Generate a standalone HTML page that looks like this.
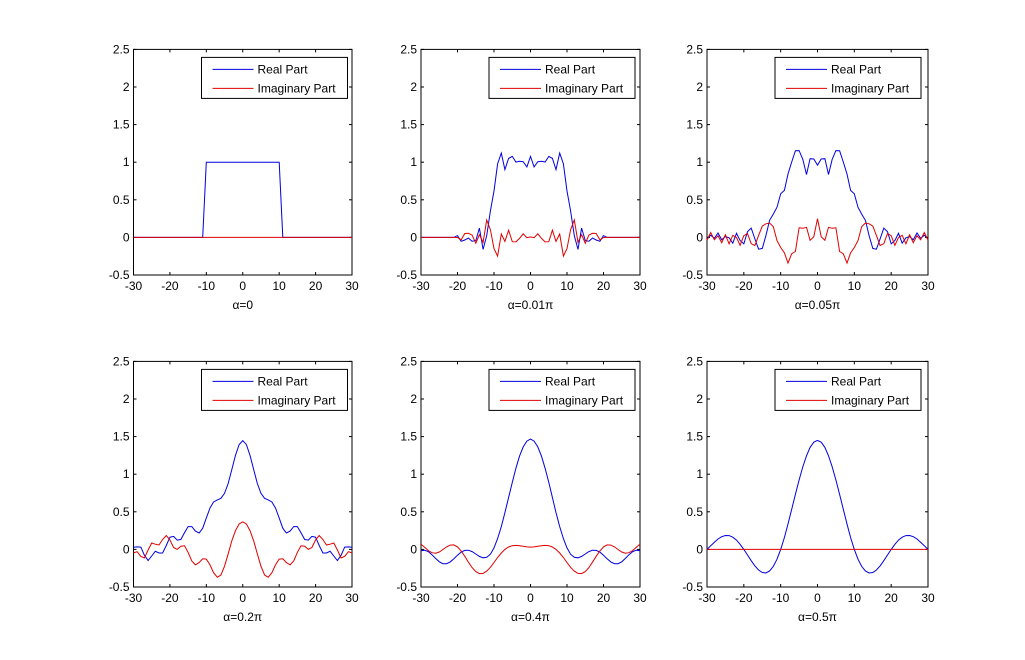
<!DOCTYPE html><html><head><meta charset="utf-8"><style>body{margin:0;background:#fff}svg{display:block}text{font-family:"Liberation Sans",sans-serif;font-size:12px;fill:#000}</style></head><body>
<svg id="s" width="1025" height="660" xmlns="http://www.w3.org/2000/svg"></svg>
<script>
const S=document.getElementById('s');let h='';
const cols=[[133.5,352],[421,640],[707,928]];
const rows=[[49.4,275],[361.4,587]];
const labels=['α=0','α=0.01π','α=0.05π','α=0.2π','α=0.4π','α=0.5π'];
const alphas=[0,0.01,0.05,0.2,0.4,0.5];
const s=5.78,b=10.5/s;
function frft(a,xs){const phi=a*Math.PI;const re=[],im=[];
 if(a===0){xs.forEach(x=>{re.push(Math.abs(x)<=10?1:0);im.push(0)});return [re,im];}
 const c=1/Math.tan(phi),cs=1/Math.sin(phi);
 const mag=Math.sqrt(Math.sqrt(1+c*c)/(2*Math.PI)),ang=Math.atan2(-c,1)/2;
 const N=6000,dt=2*b/N;
 xs.forEach(x=>{const u=x/s;let sr=0,si=0;
  for(let k=0;k<=N;k++){const t=-b+k*dt;const w=(k==0||k==N)?0.5:1;const p=0.5*(c*u*u-2*cs*u*t+c*t*t);sr+=w*Math.cos(p);si+=w*Math.sin(p);}
  sr*=dt;si*=dt;const ar=mag*Math.cos(ang),ai=mag*Math.sin(ang);
  let vr=ar*sr-ai*si,vi=ar*si+ai*sr;
  if(a===0.01&&Math.abs(x)>19){vr*=Math.abs(x)>20?0:0.5;vi*=Math.abs(x)>20?0:0.5;}
  re.push(vr);im.push(vi);});
 return [re,im];}
const xs=[];for(let x=-30;x<=30;x++)xs.push(x);
for(let r=0;r<2;r++)for(let c=0;c<3;c++){
 const [L,R]=cols[c],[T,B]=rows[r];const i=r*3+c;
 const X=x=>L+(x+30)/60*(R-L),Y=y=>B-(y+0.5)/3*(B-T);
 h+=`<rect x="${L}" y="${T}" width="${R-L}" height="${B-T}" fill="#fff" stroke="#000" stroke-width="1"/>`;
 for(let x=-30;x<=30;x+=10){const px=X(x);h+=`<line x1="${px}" y1="${B}" x2="${px}" y2="${B-3}" stroke="#000"/><line x1="${px}" y1="${T}" x2="${px}" y2="${T+3}" stroke="#000"/><text x="${px}" y="${B+15}" text-anchor="middle">${x}</text>`;}
 for(let y=-0.5;y<=2.51;y+=0.5){const py=Y(y);h+=`<line x1="${L}" y1="${py}" x2="${L+3}" y2="${py}" stroke="#000"/><line x1="${R}" y1="${py}" x2="${R-3}" y2="${py}" stroke="#000"/><text x="${L-4}" y="${py+4}" text-anchor="end">${Math.round(y*10)/10}</text>`;}
 h+=`<text x="${(L+R)/2}" y="${B+34}" text-anchor="middle">${labels[i]}</text>`;
 const [re,im]=frft(alphas[i],xs);
 const pl=(v,col)=>`<polyline fill="none" stroke="${col}" stroke-width="1" points="${xs.map((x,k)=>X(x).toFixed(1)+','+Y(v[k]).toFixed(1)).join(' ')}"/>`;
 h+=pl(re,'#0000e0')+pl(im,'#e00000');
 const lx=L+68,ly=T+8;
 h+=`<rect x="${lx}" y="${ly}" width="146" height="41" fill="#fff" stroke="#000"/>`;
 h+=`<line x1="${lx+11}" y1="${ly+12}" x2="${lx+52}" y2="${ly+12}" stroke="#0000e0"/><text x="${lx+56}" y="${ly+16}">Real Part</text>`;
 h+=`<line x1="${lx+11}" y1="${ly+31}" x2="${lx+52}" y2="${ly+31}" stroke="#e00000"/><text x="${lx+56}" y="${ly+35}">Imaginary Part</text>`;
}
S.innerHTML=h;
</script></body></html>
